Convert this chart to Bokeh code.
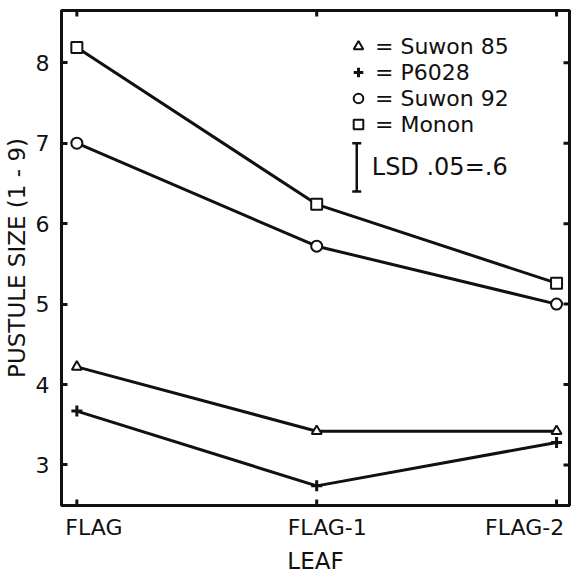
import math
from bokeh.plotting import figure
from bokeh.models import (Range1d, FixedTicker, Legend, LegendItem,
                          Label, Whisker, TeeHead, ColumnDataSource)
from bokeh.embed import file_html
from bokeh.resources import INLINE

# ---- data ----
leaves = ["FLAG", "FLAG-1", "FLAG-2"]
suwon85 = [4.22, 3.42, 3.42]
p6028 = [3.67, 2.74, 3.28]
suwon92 = [7.00, 5.72, 5.00]
monon = [8.19, 6.24, 5.26]
y_ticks = [3, 4, 5, 6, 7, 8]
lsd = 0.6

INK = "#111111"
FONT = "DejaVu Sans"

p = figure(width=572, height=576, output_backend="svg", toolbar_location=None,
           x_range=Range1d(-0.064, 2.054), y_range=Range1d(2.496, 8.65),
           min_border_left=61, min_border_right=3, min_border_top=10,
           min_border_bottom=68, background_fill_color="white",
           border_fill_color="white")
p.grid.visible = False
p.outline_line_color = INK
p.outline_line_width = 3

xs = list(range(len(leaves)))

# ---- y axis ----
ya = p.yaxis[0]
ya.ticker = FixedTicker(ticks=y_ticks)
ya.axis_line_width = 3
ya.axis_line_color = INK
ya.major_tick_in = 6
ya.major_tick_out = 0
ya.major_tick_line_width = 3
ya.major_tick_line_color = INK
ya.minor_tick_line_color = None
ya.major_label_text_font = FONT
ya.major_label_text_font_size = "22px"
ya.major_label_text_color = INK
ya.major_label_standoff = 12
ya.axis_label = "PUSTULE SIZE (1 - 9)"
ya.axis_label_text_font = FONT
ya.axis_label_text_font_size = "23px"
ya.axis_label_text_font_style = "normal"
ya.axis_label_text_color = INK
ya.axis_label_standoff = 3

# ---- x axis: labels set slightly off the leaf positions, as printed ----
label_shift = [0.071, 0.044, -0.133]
label_pos = [round(xs[i] + label_shift[i], 3) for i in range(len(leaves))]
xa = p.xaxis[0]
xa.ticker = FixedTicker(ticks=label_pos)
xa.major_label_overrides = {label_pos[i]: leaves[i] for i in range(len(leaves))}
xa.axis_line_width = 3
xa.axis_line_color = INK
xa.major_tick_line_color = None
xa.minor_tick_line_color = None
xa.major_label_text_font = FONT
xa.major_label_text_font_size = "22px"
xa.major_label_text_color = INK
xa.major_label_standoff = 3
xa.axis_label = "LEAF"
xa.axis_label_text_font = FONT
xa.axis_label_text_font_size = "23px"
xa.axis_label_text_font_style = "normal"
xa.axis_label_text_color = INK
xa.axis_label_standoff = 5

# inward tick marks on bottom, top and right (half of each dash is clipped by the frame)
x0, x1 = p.x_range.start, p.x_range.end
y0, y1 = p.y_range.start, p.y_range.end
p.scatter(xs, [y0] * len(xs), marker="dash", angle=math.pi / 2, size=12,
          line_width=3, line_color=INK)
p.scatter(xs, [y1] * len(xs), marker="dash", angle=math.pi / 2, size=12,
          line_width=3, line_color=INK)
p.scatter([x1] * len(y_ticks), y_ticks, marker="dash", size=12,
          line_width=3, line_color=INK)

# ---- series ----
series = [("Suwon 85", suwon85, "triangle", 10, 2),
          ("P6028", p6028, "cross", 11, 3),
          ("Suwon 92", suwon92, "circle", 11, 2),
          ("Monon", monon, "square", 11, 2)]
items = []
for name, vals, marker, size, lw in series:
    p.line(xs, vals, line_width=3, line_color=INK)
for name, vals, marker, size, lw in series:
    r = p.scatter(xs, vals, marker=marker, size=size, fill_color="white",
                  line_color=INK, line_width=lw)
    items.append(LegendItem(label="= " + name, renderers=[r]))

legend = Legend(items=items, location=(285, 368), border_line_alpha=0,
                background_fill_alpha=0, padding=0, margin=0, spacing=0,
                glyph_width=24, glyph_height=26, label_height=26,
                label_standoff=5, label_text_font=FONT,
                label_text_font_size="22px", label_text_color=INK)
p.add_layout(legend)

# ---- LSD bar ----
lsd_x = 1.167
lsd_low = 6.4
src = ColumnDataSource(dict(base=[lsd_x], lower=[lsd_low], upper=[lsd_low + lsd]))
p.add_layout(Whisker(source=src, base="base", lower="lower", upper="upper",
                     dimension="height", line_width=2.5, line_color=INK,
                     lower_head=TeeHead(size=9, line_width=2.5, line_color=INK),
                     upper_head=TeeHead(size=9, line_width=2.5, line_color=INK)))
p.add_layout(Label(x=lsd_x, y=lsd_low + lsd / 2, x_offset=15, text="LSD .05=.6",
                   text_baseline="middle", text_font=FONT, text_font_size="24px",
                   text_color=INK))

open("out.html", "w").write(file_html(p, INLINE))
